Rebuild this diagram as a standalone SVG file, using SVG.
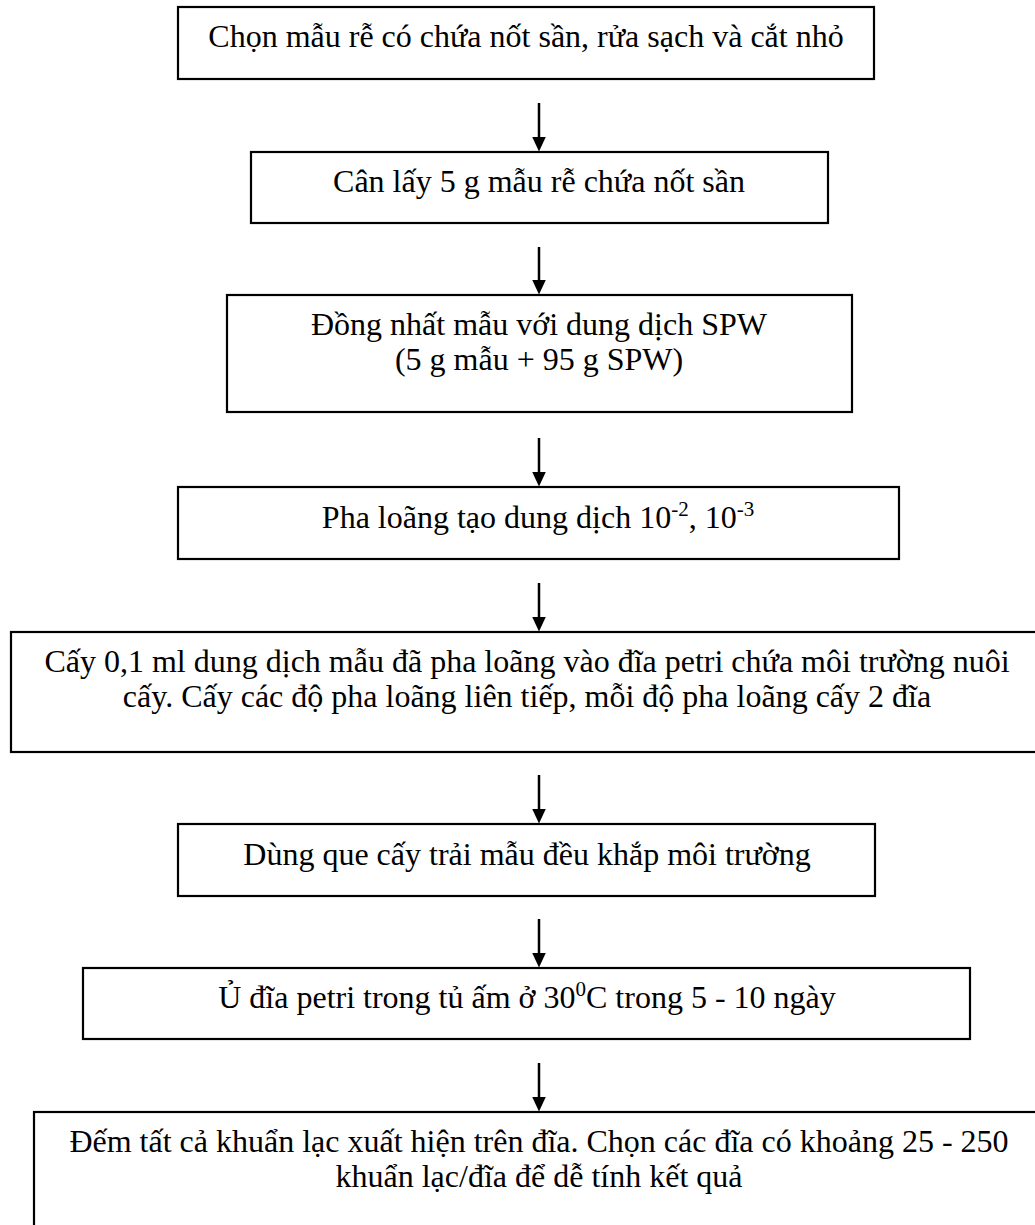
<svg xmlns="http://www.w3.org/2000/svg" width="1035" height="1225" viewBox="0 0 1035 1225">
<defs>
<style>
.box{fill:#fff;stroke:#000;stroke-width:2.2}
.t{font-family:"Liberation Serif","Times New Roman",serif;font-size:32px;fill:#000;text-anchor:middle}
.sup{font-size:21px}
.c{stroke:#000;stroke-width:2.5;fill:none}
</style>
<marker id="ah" viewBox="0 0 15 14" refX="0.5" refY="7" markerWidth="15" markerHeight="14" markerUnits="userSpaceOnUse" orient="auto">
<path d="M0,0 L15,7 L0,14 Z" fill="#000"/>
</marker>
</defs>
<g id="connectors">
<line class="c" x1="539" y1="103" x2="539" y2="137" marker-end="url(#ah)"/>
<line class="c" x1="539" y1="247" x2="539" y2="280" marker-end="url(#ah)"/>
<line class="c" x1="539" y1="438" x2="539" y2="472" marker-end="url(#ah)"/>
<line class="c" x1="539" y1="583" x2="539" y2="617" marker-end="url(#ah)"/>
<line class="c" x1="539" y1="775" x2="539" y2="809" marker-end="url(#ah)"/>
<line class="c" x1="539" y1="919" x2="539" y2="953" marker-end="url(#ah)"/>
<line class="c" x1="539" y1="1063" x2="539" y2="1097" marker-end="url(#ah)"/>
</g>
<g id="n1">
<rect class="box" x="178" y="7" width="696" height="72"/>
<text class="t" x="526" y="47">Chọn mẫu rễ có chứa nốt sần, rửa sạch và cắt nhỏ</text>
</g>
<g id="n2">
<rect class="box" x="251" y="152" width="577" height="71"/>
<text class="t" x="539" y="192">Cân lấy 5 g mẫu rễ chứa nốt sần</text>
</g>
<g id="n3">
<rect class="box" x="227" y="295" width="625" height="117"/>
<text class="t" x="539" y="335">Đồng nhất mẫu với dung dịch SPW</text>
<text class="t" x="539" y="370">(5 g mẫu + 95 g SPW)</text>
</g>
<g id="n4">
<rect class="box" x="178" y="487" width="721" height="72"/>
<text class="t" x="538" y="528">Pha loãng tạo dung dịch 10<tspan class="sup" dy="-12">-2</tspan><tspan dy="12">, 10</tspan><tspan class="sup" dy="-12">-3</tspan></text>
</g>
<g id="n5">
<rect class="box" x="11" y="632" width="1032" height="120"/>
<text class="t" x="527" y="672">Cấy 0,1 ml dung dịch mẫu đã pha loãng vào đĩa petri chứa môi trường nuôi</text>
<text class="t" x="527" y="707">cấy. Cấy các độ pha loãng liên tiếp, mỗi độ pha loãng cấy 2 đĩa</text>
</g>
<g id="n6">
<rect class="box" x="178" y="824" width="697" height="72"/>
<text class="t" x="527" y="865">Dùng que cấy trải mẫu đều khắp môi trường</text>
</g>
<g id="n7">
<rect class="box" x="83" y="968" width="887" height="71"/>
<text class="t" x="527" y="1008">Ủ đĩa petri trong tủ ấm ở 30<tspan class="sup" dy="-12">0</tspan><tspan dy="12">C trong 5 - 10 ngày</tspan></text>
</g>
<g id="n8">
<rect class="box" x="34" y="1112" width="1010" height="130"/>
<text class="t" x="539" y="1152">Đếm tất cả khuẩn lạc xuất hiện trên đĩa. Chọn các đĩa có khoảng 25 - 250</text>
<text class="t" x="539" y="1187">khuẩn lạc/đĩa để dễ tính kết quả</text>
</g>
</svg>
